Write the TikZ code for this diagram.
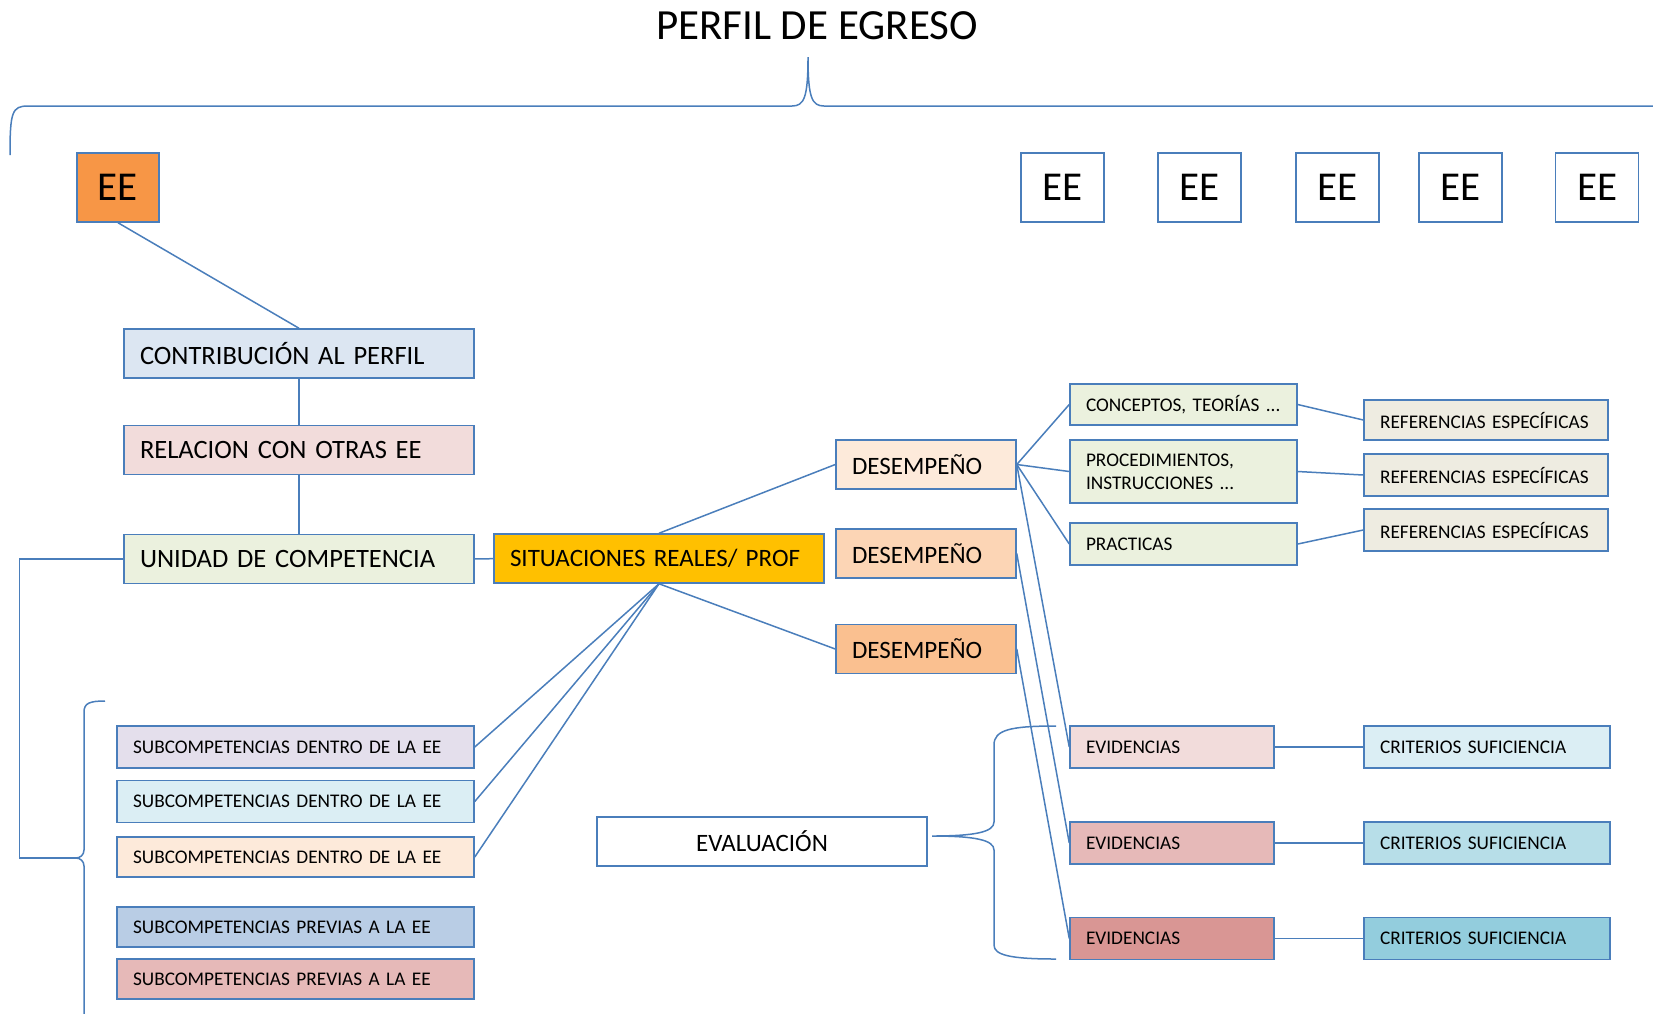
\documentclass[tikz,border=0pt]{standalone}
\usepackage{fontspec}
\setmainfont{Carlito}
\usetikzlibrary{positioning,calc}
\definecolor{edge}{HTML}{4A7EBB}
\definecolor{cEE}{HTML}{F79646}
\definecolor{cContrib}{HTML}{DCE6F2}
\definecolor{cRel}{HTML}{F2DCDB}
\definecolor{cUni}{HTML}{EBF1DE}
\definecolor{cSit}{HTML}{FFC000}
\definecolor{cDesA}{HTML}{FDEADA}
\definecolor{cDesB}{HTML}{FCD5B5}
\definecolor{cDesC}{HTML}{FAC090}
\definecolor{cRef}{HTML}{EEECE1}
\definecolor{cEvA}{HTML}{F2DCDB}
\definecolor{cEvB}{HTML}{E6B9B8}
\definecolor{cEvC}{HTML}{D99694}
\definecolor{cCrA}{HTML}{DBEEF4}
\definecolor{cCrB}{HTML}{B7DEE8}
\definecolor{cCrC}{HTML}{93CDDD}
\definecolor{cSubA}{HTML}{E4DFEC}
\definecolor{cSubD}{HTML}{B9CDE5}

\begin{document}
\begin{tikzpicture}[x=1pt,y=-1pt,
  box/.style={draw=edge,line width=1.5pt,inner xsep=16pt,inner ysep=0pt,align=left},
  big/.style={box,font=\fontsize{25}{28}\selectfont,minimum height=49pt},
  bigger/.style={big,font=\fontsize{26.5}{28}\selectfont},
  small/.style={box,font=\fontsize{19.3}{23}\selectfont,minimum height=42pt},
  eebox/.style={draw=edge,line width=1.5pt,fill=white,minimum width=83pt,minimum height=69pt,inner sep=0pt,font=\fontsize{41}{41}\selectfont},
  conn/.style={draw=edge,line width=1.5pt},
  curly/.style={draw=edge,line width=1.5pt}]
\useasboundingbox (0,0) rectangle (1653,1013);

\node[font=\fontsize{43}{43}\selectfont] (perfil) at (817,26) {PERFIL DE EGRESO};
\draw[curly] (10,155) .. controls (10,112) and (12,106) .. (28,106) -- (792,106)
  .. controls (804,106) and (808,98) .. (808,57)
  .. controls (808,98) and (812,106) .. (824,106) -- (1660,106);

\node[eebox,fill=cEE,minimum width=82pt] (ee) at (118,187.5) {EE};
\foreach \x [count=\i] in {1062.5,1199.5,1337.5,1460.5,1597}
  \node[eebox] (ee\i) at (\x,187.5) {EE};

\node[bigger,fill=cContrib,text width=318pt] (contrib) at (299,353.5) {CONTRIBUCIÓN AL PERFIL};
\node[bigger,fill=cRel,text width=318pt] (relacion) at (299,450) {RELACION CON OTRAS EE};
\node[bigger,fill=cUni,text width=318pt] (unidad) at (299,559) {UNIDAD DE COMPETENCIA};
\node[big,fill=cSit,text width=298pt] (situ) at (659,558.5) {SITUACIONES REALES/ PROF};

\node[big,fill=cDesA,text width=148pt] (desA) at (926,464.5) {DESEMPEÑO};
\node[big,fill=cDesB,text width=148pt] (desB) at (926,553.5) {DESEMPEÑO};
\node[big,fill=cDesC,text width=148pt] (desC) at (926,649) {DESEMPEÑO};

\node[small,fill=cUni,text width=195pt,minimum height=41pt] (concep) at (1183.5,404.5) {CONCEPTOS, TEORÍAS ...};
\node[small,fill=cUni,text width=195pt,minimum height=63pt] (proced) at (1183.5,471.5) {PROCEDIMIENTOS,\\INSTRUCCIONES ...};
\node[small,fill=cUni,text width=195pt] (pract) at (1183.5,544) {PRACTICAS};

\node[small,fill=cRef,text width=212pt,minimum height=40pt] (refA) at (1486,420) {REFERENCIAS ESPECÍFICAS};
\node[small,fill=cRef,text width=212pt] (refB) at (1486,475) {REFERENCIAS ESPECÍFICAS};
\node[small,fill=cRef,text width=212pt] (refC) at (1486,530) {REFERENCIAS ESPECÍFICAS};

\node[small,fill=cEvA,text width=172pt] (evA) at (1172,747) {EVIDENCIAS};
\node[small,fill=cEvB,text width=172pt] (evB) at (1172,843) {EVIDENCIAS};
\node[small,fill=cEvC,text width=172pt] (evC) at (1172,938.5) {EVIDENCIAS};
\node[small,fill=cCrA,text width=214pt] (crA) at (1487,747) {CRITERIOS SUFICIENCIA};
\node[small,fill=cCrB,text width=214pt] (crB) at (1487,843) {CRITERIOS SUFICIENCIA};
\node[small,fill=cCrC,text width=214pt] (crC) at (1487,938.5) {CRITERIOS SUFICIENCIA};

\node[big,fill=white,text width=298pt,align=center] (eval) at (762,841.5) {EVALUACIÓN};

\node[small,fill=cSubA,text width=325pt] (subA) at (295.5,747) {SUBCOMPETENCIAS DENTRO DE LA EE};
\node[small,fill=cCrA,text width=325pt] (subB) at (295.5,801.5) {SUBCOMPETENCIAS DENTRO DE LA EE};
\node[small,fill=cDesA,text width=325pt,minimum height=40pt] (subC) at (295.5,857) {SUBCOMPETENCIAS DENTRO DE LA EE};
\node[small,fill=cSubD,text width=325pt,minimum height=40pt] (subD) at (295.5,927) {SUBCOMPETENCIAS PREVIAS A LA EE};
\node[small,fill=cEvB,text width=325pt,minimum height=40pt] (subE) at (295.5,979) {SUBCOMPETENCIAS PREVIAS A LA EE};

\draw[curly] (105,701) .. controls (90,701) and (84,703) .. (84,712) -- (84,850)
  .. controls (84,855) and (80,858) .. (76,858)
  .. controls (80,858) and (84,861) .. (84,866) -- (84,1020);
\coordinate (subtip) at (76,858);
\draw[curly] (1056,726) .. controls (1010,726) and (994,730) .. (994,745) -- (994,822)
  .. controls (994,832) and (975,836) .. (932,836)
  .. controls (975,836) and (994,840) .. (994,850) -- (994,945)
  .. controls (994,955) and (1010,959) .. (1056,959);

\draw[conn] (ee.south) -- (contrib.north);
\draw[conn] (contrib) -- (relacion) -- (unidad);
\draw[conn] (unidad) -- (situ);
\draw[conn] (unidad.west) -- ++(-104,0) |- (subtip);
\draw[conn] (situ.north) -- (desA.west);
\draw[conn] (situ.south) -- (desC.west);
\foreach \s in {subA,subB,subC}
  \draw[conn] (situ.south) -- (\s.east);
\foreach \t in {concep,proced,pract,evA}
  \draw[conn] (desA.east) -- (\t.west);
\draw[conn] (desB.east) -- (evB.west);
\draw[conn] (desC.east) -- (evC.west);
\draw[conn] (concep.east) -- (refA.west);
\draw[conn] (proced.east) -- (refB.west);
\draw[conn] (pract.east) -- (refC.west);
\draw[conn] (evA) -- (crA);
\draw[conn] (evB) -- (crB);
\draw[conn] (evC) -- (crC);
\end{tikzpicture}
\end{document}
